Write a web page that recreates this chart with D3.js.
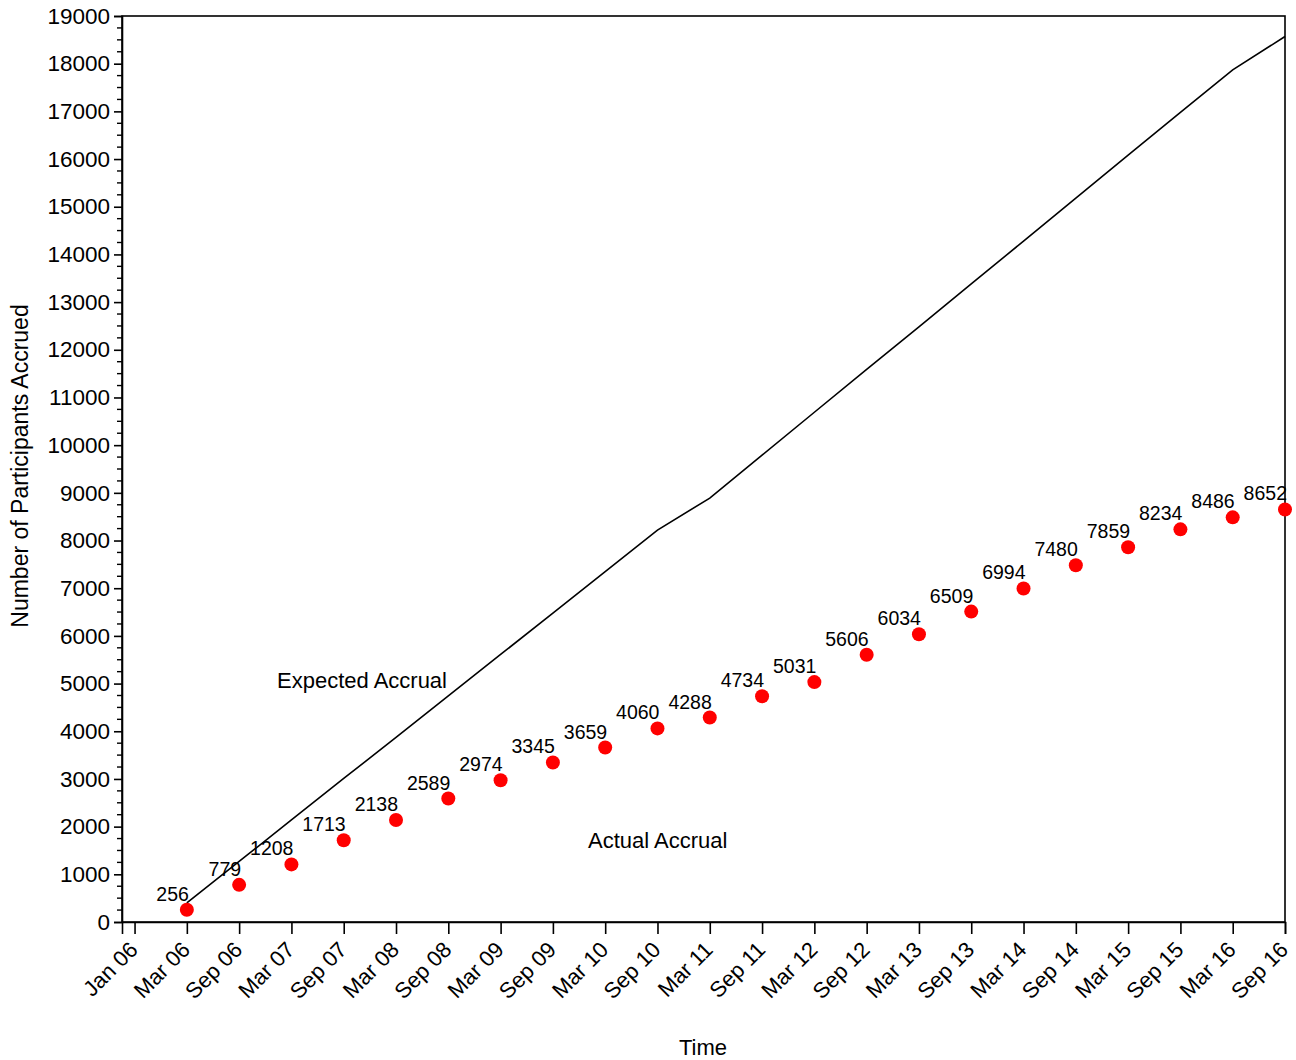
<!DOCTYPE html>
<html>
<head>
<meta charset="utf-8">
<script src="https://cdn.jsdelivr.net/npm/d3@7"></script>
<style>
  html, body { margin: 0; padding: 0; background: #fff; }
  svg { display: block; font-family: "Liberation Sans", Arial, sans-serif; }
</style>
</head>
<body>
<svg id="chart" width="1296" height="1060"></svg>
<script>
// Half-yearly reporting periods on the time axis
const periods = ["Jan 06", "Mar 06", "Sep 06", "Mar 07", "Sep 07", "Mar 08", "Sep 08",
  "Mar 09", "Sep 09", "Mar 10", "Sep 10", "Mar 11", "Sep 11", "Mar 12", "Sep 12",
  "Mar 13", "Sep 13", "Mar 14", "Sep 14", "Mar 15", "Sep 15", "Mar 16", "Sep 16"];

// Periods with accrual figures (Mar 06 onward)
const accrualPeriods = periods.slice(1);

// Cumulative participants actually accrued
const actualAccrual = [256, 779, 1208, 1713, 2138, 2589, 2974, 3345, 3659, 4060, 4288,
  4734, 5031, 5606, 6034, 6509, 6994, 7480, 7859, 8234, 8486, 8652];

// Cumulative participants expected under the accrual plan
const expectedAccrual = [400, 1270, 2140, 3010, 3870, 4740, 5610, 6480, 7350, 8220, 8890,
  9790, 10690, 11590, 12480, 13380, 14280, 15180, 16080, 16980, 17870, 18570];

const yTicks = d3.range(0, 19001, 1000);
const yMinorTicks = d3.range(0, 19001, 250).filter(v => v % 1000 !== 0);

const svg = d3.select("#chart");
const plotLeft = 122, plotRight = 1285, plotTop = 16, plotBottom = 922;

const idx = p => periods.indexOf(p);
const x = d3.scaleLinear().domain([-0.24, periods.length - 1]).range([plotLeft, plotRight]);
const y = d3.scaleLinear().domain([0, 19000]).range([plotBottom, plotTop]);

// Plot frame
svg.append("rect")
  .attr("x", plotLeft).attr("y", plotTop)
  .attr("width", plotRight - plotLeft).attr("height", plotBottom - plotTop)
  .attr("fill", "none").attr("stroke", "#000").attr("stroke-width", 1.6);

// Y axis
const yAxis = svg.append("g").attr("transform", `translate(${plotLeft},0)`)
  .call(d3.axisLeft(y).tickValues(yTicks).tickSize(8).tickPadding(4).tickFormat(d3.format("d")));
yAxis.select(".domain").attr("stroke-width", 1.6);
yAxis.selectAll(".tick line").attr("stroke-width", 1.6);
yAxis.selectAll(".tick text").attr("font-size", 22.5).attr("fill", "#000")
  .attr("font-family", "'Liberation Sans', Arial, sans-serif");
svg.append("g").selectAll("line").data(yMinorTicks).join("line")
  .attr("x1", plotLeft - 5).attr("x2", plotLeft)
  .attr("y1", d => y(d)).attr("y2", d => y(d))
  .attr("stroke", "#000").attr("stroke-width", 1.4);

// X axis
const xAxis = svg.append("g").attr("transform", `translate(0,${plotBottom})`)
  .call(d3.axisBottom(x).tickValues(periods.map((p, i) => i)).tickSize(12)
    .tickFormat(i => periods[i]));
xAxis.select(".domain").attr("stroke-width", 1.6);
xAxis.selectAll(".tick line").attr("stroke-width", 1.6);
xAxis.selectAll(".tick text")
  .attr("font-size", 22).attr("fill", "#000")
  .attr("font-family", "'Liberation Sans', Arial, sans-serif")
  .attr("text-anchor", "end")
  .attr("dy", 0)
  .attr("y", 0)
  .attr("transform", "translate(4,29) rotate(-45)");

// Axis titles
svg.append("text")
  .attr("x", 703).attr("y", 1055)
  .attr("text-anchor", "middle").attr("font-size", 22)
  .text("Time");
svg.append("text")
  .attr("transform", "translate(28,466) rotate(-90)")
  .attr("text-anchor", "middle").attr("font-size", 23)
  .text("Number of Participants Accrued");

// Expected accrual line
const line = d3.line()
  .x((d, i) => x(idx(accrualPeriods[i])))
  .y(d => y(d));
svg.append("path")
  .datum(expectedAccrual)
  .attr("d", line)
  .attr("fill", "none").attr("stroke", "#000").attr("stroke-width", 1.6);

// Actual accrual points
svg.append("g").selectAll("circle").data(actualAccrual).join("circle")
  .attr("cx", (d, i) => x(idx(accrualPeriods[i])))
  .attr("cy", d => y(d))
  .attr("r", 7)
  .attr("fill", "#ff0000");

// Point value labels
svg.append("g").selectAll("text").data(actualAccrual).join("text")
  .attr("x", (d, i) => x(idx(accrualPeriods[i])) + 2)
  .attr("y", d => y(d) - 9)
  .attr("text-anchor", "end")
  .attr("font-size", 19.5)
  .attr("fill", "#000")
  .text(d => d);

// Series annotations
svg.append("text").attr("x", 277).attr("y", 688).attr("font-size", 22).text("Expected Accrual");
svg.append("text").attr("x", 588).attr("y", 848).attr("font-size", 22).text("Actual Accrual");
</script>
</body>
</html>
